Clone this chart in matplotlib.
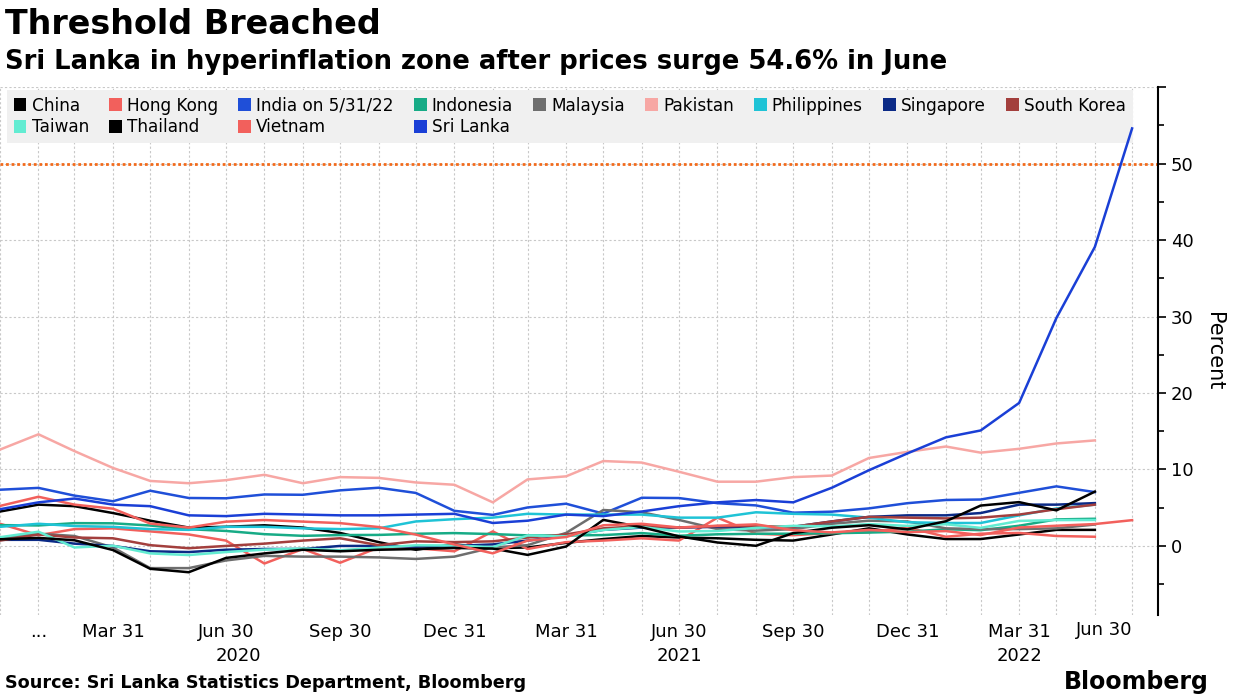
import matplotlib
matplotlib.use("Agg")
import matplotlib.pyplot as plt
import matplotlib.dates as mdates
from matplotlib.patches import Patch
from matplotlib.transforms import blended_transform_factory
import pandas as pd

plt.rcParams['font.family'] = ['DejaVu Sans']

# monthly CPI YoY %, Dec 2019 .. May 2022 (Sri Lanka, Vietnam to Jun 2022)
months = pd.date_range('2019-12-31', '2022-06-30', freq='ME')

china = [4.5, 5.4, 5.2, 4.3, 3.3, 2.4, 2.5, 2.7, 2.4, 1.7, 0.5, -0.5, 0.2,
         -0.3, -0.2, 0.4, 0.9, 1.3, 1.1, 1.0, 0.8, 0.7, 1.5, 2.3, 1.5,
         0.9, 0.9, 1.5, 2.1, 2.1]
hong_kong = [2.9, 1.4, 2.2, 2.3, 1.9, 1.5, 0.7, -2.3, -0.4, -2.2, -0.2, -0.3, -0.7,
             1.9, -0.4, 0.5, 0.7, 1.0, 0.7, 3.7, 1.6, 1.4, 1.7, 1.8, 2.4,
             1.2, 1.6, 1.7, 1.3, 1.2]
india = [7.35, 7.59, 6.58, 5.84, 7.22, 6.27, 6.23, 6.73, 6.69, 7.27, 7.61, 6.93, 4.59,
         4.06, 5.03, 5.52, 4.23, 6.30, 6.26, 5.59, 5.30, 4.35, 4.48, 4.91, 5.59,
         6.01, 6.07, 6.95, 7.79, 7.04]
indonesia = [2.72, 2.68, 2.98, 2.96, 2.67, 2.19, 1.96, 1.54, 1.32, 1.42, 1.44, 1.59, 1.68,
             1.55, 1.38, 1.37, 1.42, 1.68, 1.33, 1.52, 1.59, 1.60, 1.66, 1.75, 1.87,
             2.18, 2.06, 2.64, 3.47, 3.55]
malaysia = [1.0, 1.6, 1.3, -0.2, -2.9, -2.9, -1.9, -1.3, -1.4, -1.4, -1.5, -1.7, -1.4,
            -0.2, 0.1, 1.7, 4.7, 4.4, 3.4, 2.2, 2.0, 2.2, 2.9, 3.3, 3.2,
            2.3, 2.2, 2.2, 2.3, 2.8]
pakistan = [12.6, 14.6, 12.4, 10.2, 8.5, 8.2, 8.6, 9.3, 8.2, 9.0, 8.9, 8.3, 8.0,
            5.7, 8.7, 9.1, 11.1, 10.9, 9.7, 8.4, 8.4, 9.0, 9.2, 11.5, 12.3,
            13.0, 12.2, 12.7, 13.4, 13.8]
philippines = [2.5, 2.9, 2.6, 2.5, 2.2, 2.1, 2.5, 2.5, 2.3, 2.2, 2.3, 3.2, 3.5,
               3.7, 4.2, 4.1, 4.1, 4.1, 3.7, 3.7, 4.4, 4.2, 4.1, 3.7, 3.1,
               3.0, 3.0, 4.0, 4.9, 5.4]
singapore = [0.8, 0.8, 0.3, 0.0, -0.7, -0.8, -0.5, -0.4, -0.4, 0.0, 0.0, -0.1, 0.0,
             0.2, 0.7, 1.3, 2.1, 2.4, 2.4, 2.5, 2.4, 2.5, 3.2, 3.8, 4.0,
             4.0, 4.3, 5.4, 5.4, 5.6]
south_korea = [0.7, 1.5, 1.1, 1.0, 0.1, -0.3, 0.0, 0.3, 0.7, 1.0, 0.1, 0.6, 0.5,
               0.6, 1.1, 1.5, 2.3, 2.6, 2.4, 2.6, 2.6, 2.5, 3.2, 3.8, 3.7,
               3.6, 3.7, 4.1, 4.8, 5.4]
taiwan = [1.14, 1.86, -0.2, 0.03, -0.98, -1.19, -0.80, -0.49, -0.34, -0.57, -0.22, 0.08, 0.06,
          -0.16, 1.37, 1.26, 2.09, 2.48, 1.89, 1.95, 2.36, 2.63, 2.55, 2.86, 2.62,
          2.84, 2.36, 3.27, 3.38, 3.39]
thailand = [0.87, 1.05, 0.74, -0.54, -2.99, -3.44, -1.57, -0.98, -0.50, -0.70, -0.50, -0.41, -0.27,
            -0.34, -1.17, -0.08, 3.41, 2.44, 1.25, 0.45, 0.02, 1.68, 2.38, 2.71, 2.17,
            3.23, 5.28, 5.73, 4.65, 7.10]
vietnam = [5.23, 6.43, 5.40, 4.87, 2.93, 2.40, 3.17, 3.39, 3.18, 2.98, 2.47, 1.48, 0.19,
           -0.97, 0.70, 1.16, 2.70, 2.90, 2.41, 2.64, 2.82, 2.06, 1.77, 2.10, 1.81,
           1.94, 1.42, 2.41, 2.64, 2.86, 3.37]
sri_lanka = [4.8, 5.7, 6.2, 5.4, 5.2, 4.0, 3.9, 4.2, 4.1, 4.0, 4.0, 4.1, 4.2,
             3.0, 3.3, 4.1, 3.9, 4.5, 5.2, 5.7, 6.0, 5.7, 7.6, 9.9, 12.1,
             14.2, 15.1, 18.7, 29.8, 39.1, 54.6]

series = [
    ('China', china, '#000000'),
    ('Hong Kong', hong_kong, '#f2605c'),
    ('India on 5/31/22', india, '#1f4fd8'),
    ('Indonesia', indonesia, '#17ab86'),
    ('Malaysia', malaysia, '#6e6e6e'),
    ('Pakistan', pakistan, '#f7a7a4'),
    ('Philippines', philippines, '#1fc3d6'),
    ('Singapore', singapore, '#0b2a86'),
    ('South Korea', south_korea, '#a33f3d'),
    ('Taiwan', taiwan, '#62ecd2'),
    ('Thailand', thailand, '#000000'),
    ('Vietnam', vietnam, '#f2605c'),
    ('Sri Lanka', sri_lanka, '#1a3fd6'),
]

fig = plt.figure(figsize=(12.4, 6.97), dpi=100)
ax = fig.add_axes([0.0, 0.118, 0.934, 0.757])

for name, vals, col in series:
    ax.plot(months[:len(vals)], vals, color=col, lw=1.8, zorder=3)

ax.axhline(50, color='#f26a1b', lw=2, ls=(0, (1, 1)), zorder=2)

ax.set_ylim(-9, 60)
ax.set_xlim(pd.Timestamp('2019-12-31'), pd.Timestamp('2022-07-21'))

# y axis on right
ax.yaxis.tick_right()
ax.set_yticks([0, 10, 20, 30, 40, 50, 60])
ax.set_yticklabels(['0', '10', '20', '30', '40', '50', ''])
ax.set_yticks([-5, 5, 15, 25, 35, 45, 55], minor=True)
ax.tick_params(axis='y', which='major', length=6, width=1.2, labelsize=13, pad=3)
ax.tick_params(axis='y', which='minor', length=4, width=1.2)
ax.yaxis.set_label_position('right')
ax.set_ylabel('Percent', fontsize=15, rotation=270, labelpad=22)

for s in ['left', 'top', 'bottom']:
    ax.spines[s].set_visible(False)
ax.spines['right'].set_linewidth(1.5)

# x ticks
tick_dates = [months[i] for i in [1, 3, 6, 9, 12, 15, 18, 21, 24, 27]]
tick_labels = ['...', 'Mar 31', 'Jun 30', 'Sep 30', 'Dec 31',
               'Mar 31', 'Jun 30', 'Sep 30', 'Dec 31', 'Mar 31']
ax.set_xticks(tick_dates)
ax.set_xticklabels(tick_labels)
ax.set_xticks(list(months), minor=True)
ax.tick_params(axis='x', which='both', length=0, labelsize=13, pad=6)

trans = blended_transform_factory(ax.transData, ax.transAxes)
ax.text(mdates.date2num(months[30]), -0.011, 'Jun 30', transform=trans,
        ha='right', va='top', fontsize=13)
ax.text(mdates.date2num(pd.Timestamp('2020-07-10')), -0.062, '2020', transform=trans,
        ha='center', va='top', fontsize=13)
ax.text(mdates.date2num(months[18]), -0.062, '2021', transform=trans,
        ha='center', va='top', fontsize=13)
ax.text(mdates.date2num(months[27]), -0.062, '2022', transform=trans,
        ha='center', va='top', fontsize=13)

ax.grid(axis='x', which='both', color='#c8c8c8', ls=(0, (2, 2)), lw=0.8)
ax.grid(axis='y', which='major', color='#c8c8c8', ls=(0, (2, 2)), lw=0.8)
ax.set_axisbelow(True)

# legend, reordered so it reads row by row
order = [0, 9, 1, 10, 2, 11, 3, 12, 4, 5, 6, 7, 8]
handles = [Patch(facecolor=series[i][2], edgecolor='none') for i in order]
labels = [series[i][0] for i in order]
leg = ax.legend(handles, labels, ncol=9, loc='upper left',
                bbox_to_anchor=(0.006, 0.995), borderaxespad=0,
                fontsize=12.2, frameon=True, fancybox=False,
                handlelength=0.75, handleheight=0.75, handletextpad=0.3,
                columnspacing=1.2, labelspacing=0.22, borderpad=0.4)
leg.get_frame().set_facecolor('#f0f0f0')
leg.get_frame().set_edgecolor('none')
leg.get_frame().set_alpha(1)
leg.set_zorder(2.5)

fig.text(0.004, 0.965, 'Threshold Breached', fontsize=24, fontweight='bold',
         va='center', ha='left')
fig.text(0.004, 0.911, 'Sri Lanka in hyperinflation zone after prices surge 54.6% in June',
         fontsize=18.6, fontweight='bold', va='center', ha='left')
fig.text(0.004, 0.02, 'Source: Sri Lanka Statistics Department, Bloomberg',
         fontsize=12.7, fontweight='bold', va='center', ha='left')
fig.text(0.975, 0.022, 'Bloomberg', fontsize=17, fontweight='bold',
         va='center', ha='right')

fig.savefig('out.png', dpi=100)
